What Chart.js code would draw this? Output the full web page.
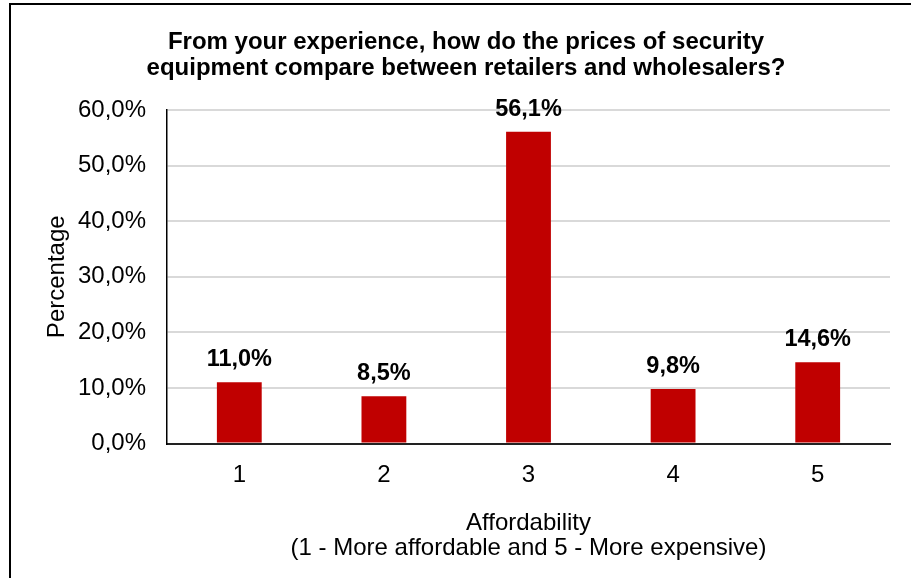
<!DOCTYPE html>
<html>
<head>
    <title>Affordability of security equipment</title>
    <script src="https://cdn.jsdelivr.net/npm/chart.js"></script>
    <style>
        body { margin: 0; overflow: hidden; background: #fff; width: 911px; height: 578px; }
        #frame { position: absolute; left: 9px; top: 3px; width: 940px; height: 600px; border: 2px solid #000; }
        #wrap { position: absolute; left: 11px; top: 5px; width: 911px; height: 573px; }
    </style>
</head>
<body>
    <div id="frame"></div>
    <div id="wrap">
        <canvas id="affordChart"></canvas>
    </div>
    <script>
        // values
        const categories = ['1', '2', '3', '4', '5'];
        const percentages = [11.0, 8.5, 56.1, 9.8, 14.6];
        const yTicks = [0, 10, 20, 30, 40, 50, 60];

        const FONT = '"Liberation Sans", Arial, sans-serif';
        const fmt = v => v.toFixed(1).replace('.', ',') + '%';

        // draws the bold value above each bar
        const valueLabels = {
            id: 'valueLabels',
            afterDatasetsDraw(chart) {
                const ctx = chart.ctx;
                const meta = chart.getDatasetMeta(0);
                ctx.save();
                ctx.font = 'bold 23.5px ' + FONT;
                ctx.fillStyle = '#000';
                ctx.textAlign = 'center';
                ctx.textBaseline = 'alphabetic';
                meta.data.forEach((bar, i) => {
                    ctx.fillText(fmt(percentages[i]), bar.x, bar.y - 16);
                });
                ctx.restore();
            }
        };

        const ctx = document.getElementById('affordChart').getContext('2d');
        new Chart(ctx, {
            type: 'bar',
            data: {
                labels: categories,
                datasets: [{
                    data: percentages,
                    backgroundColor: '#C00000',
                    borderWidth: 0,
                    barPercentage: 0.31,
                    categoryPercentage: 1
                }]
            },
            options: {
                responsive: true,
                maintainAspectRatio: false,
                animation: false,
                layout: { padding: { left: 31, right: 32, top: 0, bottom: 17 } },
                plugins: {
                    legend: { display: false },
                    tooltip: { enabled: false },
                    title: {
                        display: true,
                        text: ['From your experience, how do the prices of security',
                               'equipment compare between retailers and wholesalers?'],
                        color: '#000',
                        font: { family: FONT, size: 24, weight: 'bold', lineHeight: 26 / 24 },
                        padding: { top: 24, bottom: 29 }
                    }
                },
                scales: {
                    x: {
                        grid: { display: false, drawTicks: false },
                        border: { display: true, color: '#222', width: 2 },
                        ticks: { color: '#000', padding: 17, font: { family: FONT, size: 24, lineHeight: 1.2 } },
                        title: {
                            display: true,
                            text: ['Affordability', '(1 - More affordable and 5 - More expensive)'],
                            color: '#000',
                            font: { family: FONT, size: 24, lineHeight: 25 / 24 },
                            padding: { top: 0, bottom: 0 }
                        },
                        afterFit: s => { s.height = 117.5; }
                    },
                    y: {
                        min: 0,
                        max: 60,
                        afterBuildTicks: s => { s.ticks = yTicks.map(v => ({ value: v })); },
                        grid: { color: '#d9d9d9', lineWidth: 2, drawTicks: false },
                        border: { display: true, color: '#000', width: 1.5 },
                        ticks: {
                            color: '#000',
                            padding: 21,
                            font: { family: FONT, size: 24 },
                            callback: v => fmt(v)
                        },
                        title: {
                            display: true,
                            text: 'Percentage',
                            color: '#000',
                            font: { family: FONT, size: 24, lineHeight: 1.2 },
                            padding: { top: 1, bottom: 0 }
                        },
                        afterFit: s => { s.width = 125; }
                    }
                }
            },
            plugins: [valueLabels]
        });
    </script>
</body>
</html>
